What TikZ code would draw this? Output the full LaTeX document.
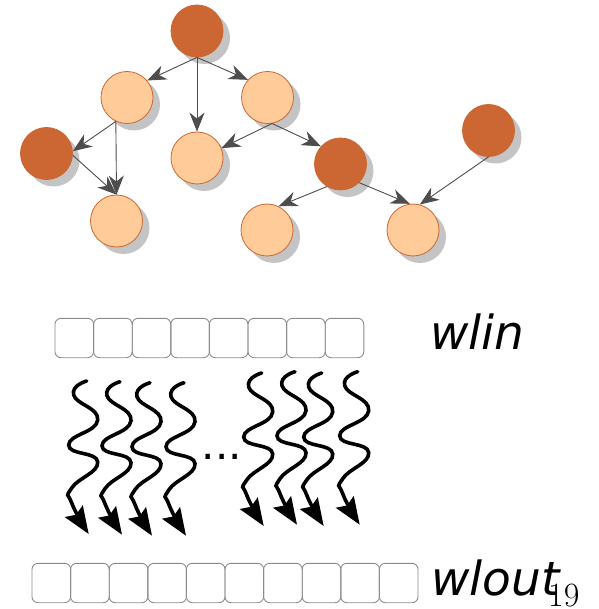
\documentclass[tikz,border=0pt]{standalone}
\usepackage{fontspec}
\newfontfamily\labelfont{DejaVu Sans}
\usetikzlibrary{shapes,arrows.meta,positioning,shadows}

\definecolor{rust}{HTML}{CC6633}
\definecolor{peach}{HTML}{FFCC99}
\definecolor{shade}{HTML}{C4C4C4}
\definecolor{edgegray}{HTML}{4D4D4D}
\definecolor{cellgray}{HTML}{8C8C8C}

\tikzstyle{vertex} = [circle, minimum size=52pt, inner sep=0pt, line width=0.8pt, drop shadow={shadow xshift=7pt, shadow yshift=-7pt, fill=shade, opacity=1}]
\tikzstyle{dark} = [vertex, fill=rust, draw=rust]
\tikzstyle{light} = [vertex, fill=peach, draw=rust]
\tikzstyle{edge} = [draw=edgegray, line width=0.9pt, -{Stealth[length=19pt,width=15pt,inset=6pt]}]
\tikzstyle{cell} = [rectangle, rounded corners=6pt, draw=cellgray, line width=0.9pt, minimum width=38.6pt, minimum height=39.4pt, inner sep=0pt]
\tikzstyle{wave} = [line width=3.6pt, line cap=round, -{Stealth[length=27pt,width=21pt,inset=4pt]}]
\tikzstyle{wordlabel} = [anchor=base west, inner sep=0pt, font=\labelfont\itshape\fontsize{47}{50}\selectfont]

\begin{document}
\begin{tikzpicture}[x=1pt, y=-1pt, on grid]
   \useasboundingbox (0,0) rectangle (598,609);

   % graph nodes
   \node[dark] (root) at (197,31) {};
   \node[light] (lA) [below left=66.5pt and 70pt of root] {};
   \node[light] (lC) [below right=66.5pt and 70.5pt of root] {};
   \node[light] (lM) [below=127pt of root] {};
   \node[dark] (dL) [below left=56pt and 80.5pt of lA] {};
   \node[light] (lD) [below right=67.5pt and 70pt of dL] {};
   \node[dark] (dM) [below right=66.5pt and 73pt of lC] {};
   \node[light] (lB) [below left=66pt and 73.5pt of dM] {};
   \node[light] (lR) [below right=66pt and 72.5pt of dM] {};
   \node[dark] (dR) [above right=99.5pt and 75.5pt of lR] {};

   % graph edges
   \draw[edge] (root.south) -- (lA.40);
   \draw[edge] (root.south) -- (lM.north);
   \draw[edge] (root.south) -- (lC.138);
   \draw[edge] (lA.-115) -- (dL.5);
   \draw[edge] (lA.-115) -- (lD.north);
   \draw[edge] (dL.-4) -- (lD.north);
   \draw[edge] (lC.-80) -- (lM.22);
   \draw[edge] (lC.-80) -- (dM.138);
   \draw[edge] (dM.-121) -- (lB.64);
   \draw[edge] (dM.-45) -- (lR.97);
   \draw[edge] (dR.south) -- (lR.75);

   % input and output words
   \node[cell] (in1) at (74.3,338) {};
   \foreach \i [remember=\i as \prev (initially 1)] in {2,...,8}
      \node[cell, right=38.6pt of in\prev] (in\i) {};
   \node[cell] (out1) at (51.3,583) {};
   \foreach \i [remember=\i as \prev (initially 1)] in {2,...,10}
      \node[cell, right=38.6pt of out\prev] (out\i) {};

   \node[wordlabel] (wlin) at (430,349) {wlin};
   \node[wordlabel] (wlout) at (431,595) {wlout};
   \node[anchor=base west, inner sep=0pt, font=\fontsize{34}{36}\selectfont] (page) at (548,606) {19};

   % threads
   \foreach \x/\y in {86.7/381, 120/381.7, 150/382.7, 184/382.7, 261.7/373, 295/371.7, 321.7/373, 357.7/371.7}
      \draw[wave, shift={(\x,\y)}] plot[smooth, tension=0.9] coordinates {(0,0) (-13,14) (11,39) (-18,64) (11,81) (-15,107) (-15,122) (2,153)};
   \node[anchor=base west, inner sep=0pt, font=\labelfont\fontsize{42}{44}\selectfont] (dots) at (201.5,459.5) {...};
\end{tikzpicture}
\end{document}
